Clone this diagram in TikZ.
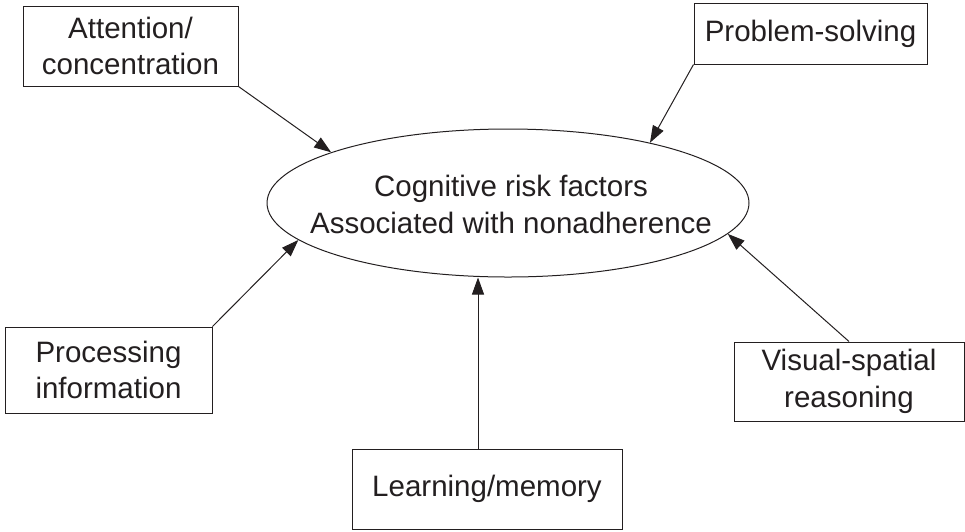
\documentclass[tikz,border=0pt]{standalone}
\usepackage{fontspec}
\setmainfont{Liberation Sans}
\usepackage{xcolor}
\usepackage{tikz}
\usetikzlibrary{positioning,calc,arrows.meta,shapes.geometric}

\definecolor{inkgray}{RGB}{35,31,32}

\tikzset{
	factor/.style={draw=inkgray, line width=1pt, fill=white, align=center, inner sep=0pt,
		text=inkgray, font=\fontsize{29.5}{36.5}\selectfont},
	arr/.style={-{Triangle[length=17pt,width=12pt]}, line width=1pt, draw=inkgray}
}

\begin{document}
\begin{tikzpicture}[x=1pt, y=-1pt]
					\useasboundingbox (0,0) rectangle (965,531);
					% central ellipse
					\node[ellipse, draw=inkgray, line width=1pt, minimum width=482pt, minimum height=148pt, inner sep=0pt] (cog) at (508,203) {};
					\node[align=center, text=inkgray, font=\fontsize{29.5}{37}\selectfont] (cogtxt) at (511,204) {Cognitive risk factors\\Associated with nonadherence};
					% the five factors
					\node[factor, minimum width=215pt, minimum height=80pt] (att) at (130.5,46) {Attention/\\concentration};
					\node[factor, minimum width=233pt, minimum height=61pt] (prob) at (810.5,33.5) {Problem-solving};
					\node[factor, minimum width=207pt, minimum height=86pt] (proc) at (108.5,370) {Processing\\information};
					\node[factor, minimum width=230pt, minimum height=79pt] (vis) at (849,381.5) {Visual-spatial\\reasoning};
					\node[factor, minimum width=270pt, minimum height=80pt] (learn) at (487,489) {Learning/memory};
					% arrows
					\draw[arr] (att.south east) -- (cog.164);
					\draw[arr] (prob.south west) -- (cog.23);
					\draw[arr] (proc.north east) -- (cog.190);
					\draw[arr] (vis.north) -- (cog.352);
					\draw[arr] ([xshift=-9pt]learn.north) -- ([xshift=-9pt]learn.north |- cog.south);
				\end{tikzpicture}
\end{document}
